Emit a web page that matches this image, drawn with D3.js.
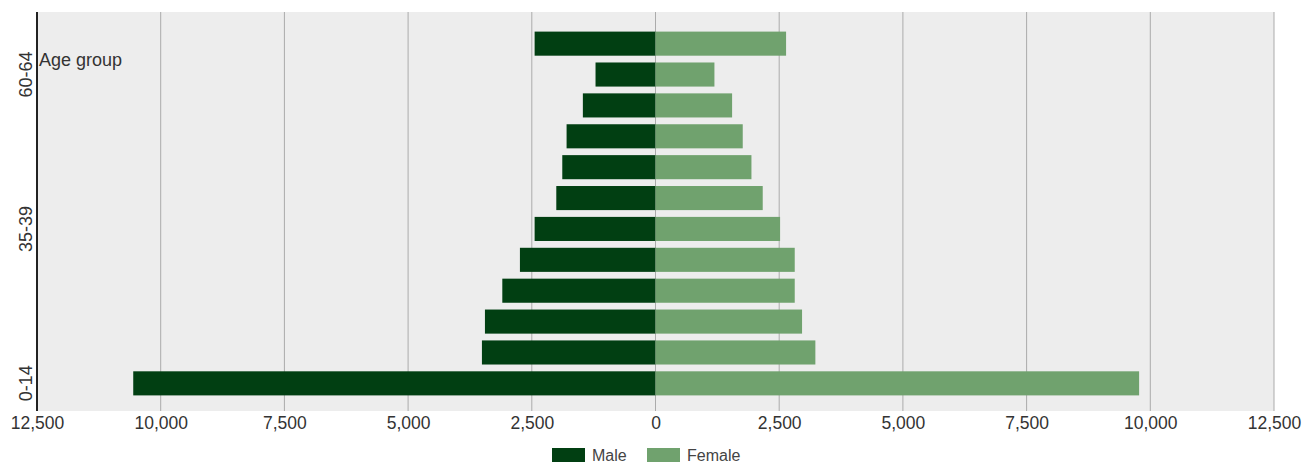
<!DOCTYPE html>
<html>
<head>
<meta charset="utf-8">
<script src="https://cdn.jsdelivr.net/npm/d3@7"></script>
<style>
  html, body { margin: 0; padding: 0; background: #fff; }
  svg { display: block; font-family: "Liberation Sans", Arial, sans-serif; }
  .tick text { fill: #333; }
</style>
</head>
<body>
<div id="chart"></div>
<script>
// age groups, bottom to top
const ageGroups = ["0-14", "15-19", "20-24", "25-29", "30-34", "35-39",
                   "40-44", "45-49", "50-54", "55-59", "60-64", "65+"];
const maleValues   = [10555, 3508, 3447, 3096, 2740, 2443, 2005, 1884, 1797, 1468, 1212, 2443];
const femaleValues = [9774, 3231, 2962, 2814, 2814, 2518, 2167, 1939, 1763, 1548, 1191, 2639];
const xTicks = [-12500, -10000, -7500, -5000, -2500, 0, 2500, 5000, 7500, 10000, 12500];
const yTickLabels = ["0-14", "35-39", "60-64"];
const seriesNames = ["Male", "Female"];
const seriesColors = ["#013f12", "#70a26e"];

window.addEventListener("DOMContentLoaded", () => {
  const width = 1305, height = 463;
  const plot = { left: 37, right: 1274, top: 12, bottom: 411 };

  const svg = d3.select("#chart").append("svg")
    .attr("width", width)
    .attr("height", height);

  const x = d3.scaleLinear()
    .domain([-12500, 12500])
    .range([plot.left, plot.right]);

  const y = d3.scaleBand()
    .domain(ageGroups)
    .range([plot.bottom + 2, plot.top + 2])
    .paddingInner(0.22)
    .paddingOuter(0.57);

  // background
  svg.append("rect")
    .attr("x", plot.left).attr("y", plot.top)
    .attr("width", plot.right - plot.left)
    .attr("height", plot.bottom - plot.top)
    .attr("fill", "#ededed");

  // vertical grid
  svg.append("g")
    .selectAll("line")
    .data(xTicks)
    .join("line")
    .attr("x1", d => x(d)).attr("x2", d => x(d))
    .attr("y1", plot.top).attr("y2", plot.bottom)
    .attr("stroke", "#ababab")
    .attr("stroke-width", 1);

  const rows = ageGroups.map((g, i) => ({ g, male: maleValues[i], female: femaleValues[i] }));

  // male bars (left)
  svg.append("g")
    .selectAll("rect")
    .data(rows)
    .join("rect")
    .attr("x", d => x(-d.male))
    .attr("y", d => y(d.g))
    .attr("width", d => x(0) - x(-d.male))
    .attr("height", y.bandwidth())
    .attr("fill", seriesColors[0]);

  // female bars (right)
  svg.append("g")
    .selectAll("rect")
    .data(rows)
    .join("rect")
    .attr("x", x(0))
    .attr("y", d => y(d.g))
    .attr("width", d => x(d.female) - x(0))
    .attr("height", y.bandwidth())
    .attr("fill", seriesColors[1]);

  // x axis labels
  const fmt = d3.format(",");
  const xAxis = svg.append("g")
    .attr("transform", `translate(0,${plot.bottom})`)
    .call(d3.axisBottom(x).tickValues(xTicks).tickSize(0).tickPadding(6)
      .tickFormat(d => fmt(Math.abs(d))));
  xAxis.select(".domain").remove();
  xAxis.selectAll("text").style("font-size", "17.5px")
    .attr("font-family", "Liberation Sans, Arial, sans-serif");

  // y axis
  const yAxis = svg.append("g")
    .attr("transform", `translate(${plot.left},0)`)
    .call(d3.axisLeft(y).tickValues(yTickLabels).tickSize(0).tickPadding(0));
  yAxis.select(".domain")
    .attr("d", `M0,${plot.top}V${plot.bottom}`)
    .attr("stroke", "#222").attr("stroke-width", 2);
  yAxis.selectAll(".tick text")
    .style("font-size", "18px")
    .attr("font-family", "Liberation Sans, Arial, sans-serif")
    .attr("text-anchor", "middle")
    .attr("dy", null)
    .attr("transform", "translate(-11,0) rotate(-90)")
    .attr("x", 0).attr("y", 0)
    .attr("dominant-baseline", "central");

  // axis title inside plot
  svg.append("text")
    .attr("x", plot.left + 2)
    .attr("y", 66)
    .attr("fill", "#333")
    .style("font-size", "18px")
    .text("Age group");

  // legend
  const legendX = [552, 647];
  const leg = svg.append("g").selectAll("g")
    .data(seriesNames)
    .join("g")
    .attr("transform", (d, i) => `translate(${legendX[i]},448)`);
  leg.append("rect")
    .attr("width", 33).attr("height", 14)
    .attr("fill", (d, i) => seriesColors[i]);
  leg.append("text")
    .attr("x", 40).attr("y", 13)
    .attr("fill", "#444")
    .style("font-size", "16px")
    .text(d => d);
});
</script>
</body>
</html>
